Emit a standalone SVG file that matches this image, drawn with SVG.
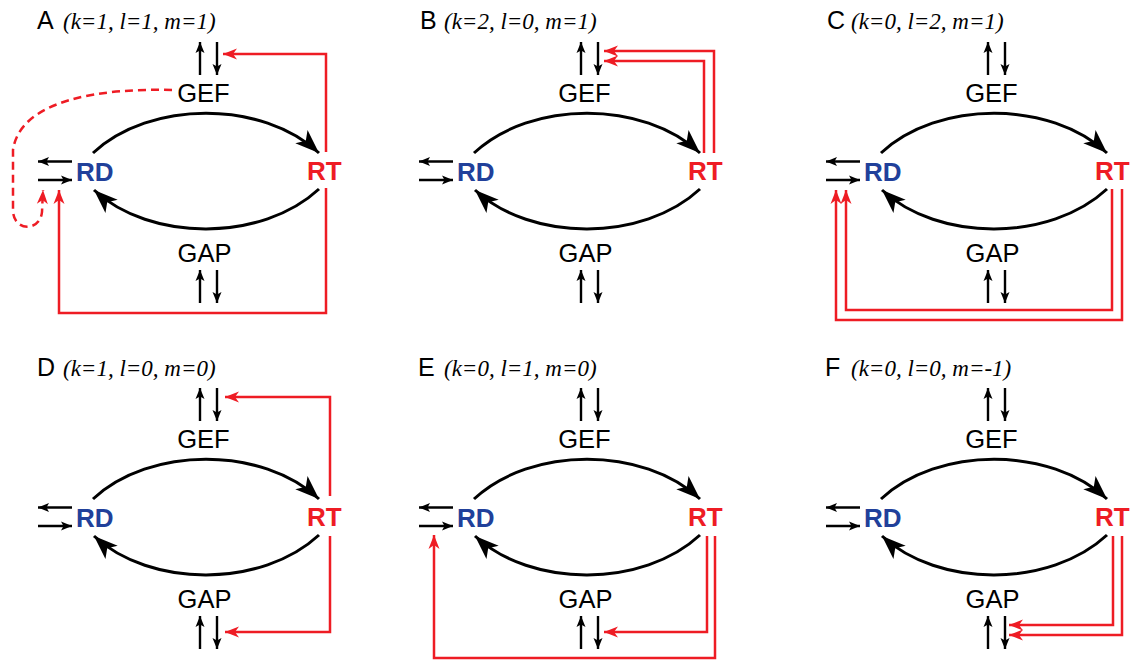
<svg xmlns="http://www.w3.org/2000/svg" width="1131" height="661" viewBox="0 0 1131 661">
<style>
.arc{fill:none;stroke:#000;stroke-width:3}
.thin{fill:none;stroke:#000;stroke-width:2.4}
.red{fill:none;stroke:#ee1c24;stroke-width:2.5}
.dash{stroke-dasharray:8 5}
.lbl{font-family:"Liberation Sans",Arial,sans-serif;font-size:25.5px;fill:#000}
.rd{font-family:"Liberation Sans",Arial,sans-serif;font-size:26px;font-weight:bold;fill:#21409a}
.rt{font-family:"Liberation Sans",Arial,sans-serif;font-size:26px;font-weight:bold;fill:#ee1c24}
.ttl{font-family:"Liberation Sans",Arial,sans-serif;font-size:25px;fill:#000}
.par{font-family:"Liberation Serif","Times New Roman",serif;font-style:italic;font-size:23px;fill:#000}
</style>
<defs>
<marker id="big" markerUnits="userSpaceOnUse" markerWidth="26" markerHeight="20" refX="24" refY="9" orient="auto" overflow="visible"><path d="M0,0 L24,9 L0,18 L6,9 z" fill="#000"/></marker>
<marker id="sm" markerUnits="userSpaceOnUse" markerWidth="12" markerHeight="10" refX="11" refY="4.5" orient="auto" overflow="visible"><path d="M0,0 L11,4.5 L0,9 L2.5,4.5 z" fill="#000"/></marker>
<marker id="rh" markerUnits="userSpaceOnUse" markerWidth="15" markerHeight="12" refX="14" refY="5.5" orient="auto" overflow="visible"><path d="M0,0 L14,5.5 L0,11 L4,5.5 z" fill="#ee1c24"/></marker>
</defs>

<!-- Panel A -->
<g id="panelA">
<g id="A-title"><text x="37" y="29" class="ttl">A</text><text x="63" y="29" class="par">(k=1, l=1, m=1)</text></g>
<g id="A-GEF"><text x="203.5" y="102" class="lbl" text-anchor="middle">GEF</text></g>
<g id="A-GAP"><text x="204.5" y="262" class="lbl" text-anchor="middle">GAP</text></g>
<g id="A-RD"><text x="76" y="181" class="rd">RD</text></g>
<g id="A-RT"><text x="307" y="180" class="rt">RT</text></g>
<g id="A-connectors">
<path class="arc" d="M93,153 C150,100 262,100 319,153" marker-end="url(#big)"/>
<path class="arc" d="M319,189 C262,242 150,242 94,190" marker-end="url(#big)"/>
<path class="thin" d="M200,75 L200,42" marker-end="url(#sm)"/>
<path class="thin" d="M217,42 L217,75" marker-end="url(#sm)"/>
<path class="thin" d="M200,303 L200,270" marker-end="url(#sm)"/>
<path class="thin" d="M217,270 L217,303" marker-end="url(#sm)"/>
<path class="thin" d="M72,161.5 L38,161.5" marker-end="url(#sm)"/>
<path class="thin" d="M38,180 L72,180" marker-end="url(#sm)"/>
<path class="red" d="M326,152 L326,54 L223,54" marker-end="url(#rh)"/>
<path class="red" d="M326,188 L326,313 L59,313 L59,190" marker-end="url(#rh)"/>
<path class="red dash" d="M172,90 C100,88 20,100 13,150 L13,210 C13,232 40,232 42,212 L43,190" marker-end="url(#rh)"/>
</g>
</g>

<!-- Panel B -->
<g id="panelB" transform="translate(381,0)">
<g id="B-title"><text x="39" y="29" class="ttl">B</text><text x="63" y="29" class="par">(k=2, l=0, m=1)</text></g>
<g id="B-GEF"><text x="203.5" y="102" class="lbl" text-anchor="middle">GEF</text></g>
<g id="B-GAP"><text x="204.5" y="262" class="lbl" text-anchor="middle">GAP</text></g>
<g id="B-RD"><text x="76" y="181" class="rd">RD</text></g>
<g id="B-RT"><text x="307" y="180" class="rt">RT</text></g>
<g id="B-connectors">
<path class="arc" d="M93,153 C150,100 262,100 319,153" marker-end="url(#big)"/>
<path class="arc" d="M319,189 C262,242 150,242 94,190" marker-end="url(#big)"/>
<path class="thin" d="M200,75 L200,42" marker-end="url(#sm)"/>
<path class="thin" d="M217,42 L217,75" marker-end="url(#sm)"/>
<path class="thin" d="M200,303 L200,270" marker-end="url(#sm)"/>
<path class="thin" d="M217,270 L217,303" marker-end="url(#sm)"/>
<path class="thin" d="M72,161.5 L38,161.5" marker-end="url(#sm)"/>
<path class="thin" d="M38,180 L72,180" marker-end="url(#sm)"/>
<path class="red" d="M323,153 L323,61 L223,61" marker-end="url(#rh)"/>
<path class="red" d="M333,153 L333,51 L223,51" marker-end="url(#rh)"/>
</g>
</g>

<!-- Panel C -->
<g id="panelC" transform="translate(788,0)">
<g id="C-title"><text x="39" y="29" class="ttl">C</text><text x="63" y="29" class="par">(k=0, l=2, m=1)</text></g>
<g id="C-GEF"><text x="203.5" y="102" class="lbl" text-anchor="middle">GEF</text></g>
<g id="C-GAP"><text x="204.5" y="262" class="lbl" text-anchor="middle">GAP</text></g>
<g id="C-RD"><text x="76" y="181" class="rd">RD</text></g>
<g id="C-RT"><text x="307" y="180" class="rt">RT</text></g>
<g id="C-connectors">
<path class="arc" d="M93,153 C150,100 262,100 319,153" marker-end="url(#big)"/>
<path class="arc" d="M319,189 C262,242 150,242 94,190" marker-end="url(#big)"/>
<path class="thin" d="M200,75 L200,42" marker-end="url(#sm)"/>
<path class="thin" d="M217,42 L217,75" marker-end="url(#sm)"/>
<path class="thin" d="M200,303 L200,270" marker-end="url(#sm)"/>
<path class="thin" d="M217,270 L217,303" marker-end="url(#sm)"/>
<path class="thin" d="M72,161.5 L38,161.5" marker-end="url(#sm)"/>
<path class="thin" d="M38,180 L72,180" marker-end="url(#sm)"/>
<path class="red" d="M324,189 L324,310 L58,310 L58,190" marker-end="url(#rh)"/>
<path class="red" d="M334,189 L334,320 L48,320 L48,190" marker-end="url(#rh)"/>
</g>
</g>

<!-- Panel D -->
<g id="panelD" transform="translate(0,346)">
<g id="D-title"><text x="37" y="30" class="ttl">D</text><text x="63" y="30" class="par">(k=1, l=0, m=0)</text></g>
<g id="D-GEF"><text x="203.5" y="102" class="lbl" text-anchor="middle">GEF</text></g>
<g id="D-GAP"><text x="204.5" y="262" class="lbl" text-anchor="middle">GAP</text></g>
<g id="D-RD"><text x="76" y="181" class="rd">RD</text></g>
<g id="D-RT"><text x="307" y="180" class="rt">RT</text></g>
<g id="D-connectors">
<path class="arc" d="M93,153 C150,100 262,100 319,153" marker-end="url(#big)"/>
<path class="arc" d="M319,189 C262,242 150,242 94,190" marker-end="url(#big)"/>
<path class="thin" d="M200,75 L200,42" marker-end="url(#sm)"/>
<path class="thin" d="M217,42 L217,75" marker-end="url(#sm)"/>
<path class="thin" d="M200,303 L200,270" marker-end="url(#sm)"/>
<path class="thin" d="M217,270 L217,303" marker-end="url(#sm)"/>
<path class="thin" d="M72,161.5 L38,161.5" marker-end="url(#sm)"/>
<path class="thin" d="M38,180 L72,180" marker-end="url(#sm)"/>
<path class="red" d="M330,150 L330,51 L225,51" marker-end="url(#rh)"/>
<path class="red" d="M330,190 L330,286 L225,286" marker-end="url(#rh)"/>
</g>
</g>

<!-- Panel E -->
<g id="panelE" transform="translate(381,346)">
<g id="E-title"><text x="37" y="30" class="ttl">E</text><text x="63" y="30" class="par">(k=0, l=1, m=0)</text></g>
<g id="E-GEF"><text x="203.5" y="102" class="lbl" text-anchor="middle">GEF</text></g>
<g id="E-GAP"><text x="204.5" y="262" class="lbl" text-anchor="middle">GAP</text></g>
<g id="E-RD"><text x="76" y="181" class="rd">RD</text></g>
<g id="E-RT"><text x="307" y="180" class="rt">RT</text></g>
<g id="E-connectors">
<path class="arc" d="M93,153 C150,100 262,100 319,153" marker-end="url(#big)"/>
<path class="arc" d="M319,189 C262,242 150,242 94,190" marker-end="url(#big)"/>
<path class="thin" d="M200,75 L200,42" marker-end="url(#sm)"/>
<path class="thin" d="M217,42 L217,75" marker-end="url(#sm)"/>
<path class="thin" d="M200,303 L200,270" marker-end="url(#sm)"/>
<path class="thin" d="M217,270 L217,303" marker-end="url(#sm)"/>
<path class="thin" d="M72,161.5 L38,161.5" marker-end="url(#sm)"/>
<path class="thin" d="M38,180 L72,180" marker-end="url(#sm)"/>
<path class="red" d="M326,190 L326,286 L223,286" marker-end="url(#rh)"/>
<path class="red" d="M334,190 L334,312 L53,312 L53,189" marker-end="url(#rh)"/>
</g>
</g>

<!-- Panel F -->
<g id="panelF" transform="translate(788,346)">
<g id="F-title"><text x="37" y="30" class="ttl">F</text><text x="63" y="30" class="par">(k=0, l=0, m=-1)</text></g>
<g id="F-GEF"><text x="203.5" y="102" class="lbl" text-anchor="middle">GEF</text></g>
<g id="F-GAP"><text x="204.5" y="262" class="lbl" text-anchor="middle">GAP</text></g>
<g id="F-RD"><text x="76" y="181" class="rd">RD</text></g>
<g id="F-RT"><text x="307" y="180" class="rt">RT</text></g>
<g id="F-connectors">
<path class="arc" d="M93,153 C150,100 262,100 319,153" marker-end="url(#big)"/>
<path class="arc" d="M319,189 C262,242 150,242 94,190" marker-end="url(#big)"/>
<path class="thin" d="M200,75 L200,42" marker-end="url(#sm)"/>
<path class="thin" d="M217,42 L217,75" marker-end="url(#sm)"/>
<path class="thin" d="M200,303 L200,270" marker-end="url(#sm)"/>
<path class="thin" d="M217,270 L217,303" marker-end="url(#sm)"/>
<path class="thin" d="M72,161.5 L38,161.5" marker-end="url(#sm)"/>
<path class="thin" d="M38,180 L72,180" marker-end="url(#sm)"/>
<path class="red" d="M325,190 L325,279 L221,279" marker-end="url(#rh)"/>
<path class="red" d="M334,190 L334,289 L221,289" marker-end="url(#rh)"/>
</g>
</g>
</svg>
